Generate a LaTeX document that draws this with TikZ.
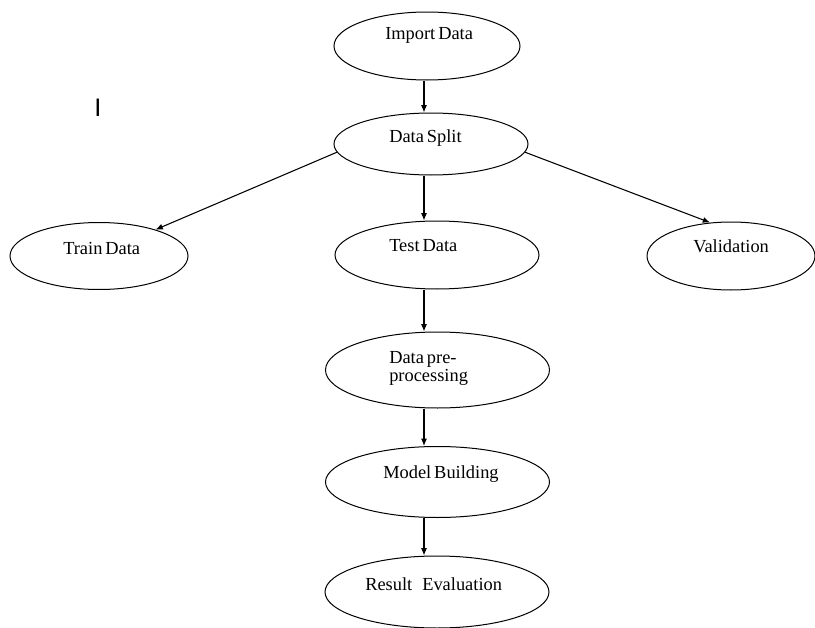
\documentclass[tikz,border=0pt]{standalone}
\usepackage{fontspec}
\setmainfont{Liberation Serif}
\newfontfamily\labsans{Liberation Sans}
\usetikzlibrary{arrows.meta,shapes.geometric}
\newcommand{\tightsp}{\spaceskip=2.2pt plus 1pt\relax}
\begin{document}
\begin{tikzpicture}[x=0.75pt,y=-0.75pt,
  oval/.style={ellipse,draw,line width=0.75pt,inner sep=0pt},
  lbl/.style={anchor=base west,inner sep=0pt,font=\fontsize{13.8pt}{16pt}\selectfont\tightsp},
  arr/.style={line width=0.8pt,-{Latex[length=5.5pt,width=4.5pt]}}]
\useasboundingbox (0,0) rectangle (815,628);
% ellipses
\node[oval,minimum width=186*0.75pt,minimum height=68*0.75pt] (imp) at (427,46) {};
\node[oval,minimum width=194*0.75pt,minimum height=62*0.75pt] (spl) at (431,144) {};
\node[oval,minimum width=178*0.75pt,minimum height=67*0.75pt] (trn) at (99,256) {};
\node[oval,minimum width=204*0.75pt,minimum height=68*0.75pt] (tst) at (437,255) {};
\node[oval,minimum width=168*0.75pt,minimum height=68*0.75pt] (val) at (731,256) {};
\node[oval,minimum width=224*0.75pt,minimum height=76*0.75pt] (pre) at (437.5,370) {};
\node[oval,minimum width=224*0.75pt,minimum height=71*0.75pt] (mdl) at (437.5,482) {};
\node[oval,minimum width=224*0.75pt,minimum height=72*0.75pt] (res) at (437,592) {};
% texts
\node[lbl] (timp) at (385,40) {Import Data};
\node[lbl] (tspl) at (389,142) {Data Split};
\node[lbl] (ttrn) at (63,254) {Train Data};
\node[lbl] (ttst) at (389,251) {Test Data};
\node[lbl] (tval) at (693,252) {Validation};
\node[lbl] (tpre1) at (389,363) {Data pre-};
\node[lbl] (tpre2) at (389,381) {processing};
\node[lbl] (tmdl) at (383,478) {Model Building};
\node[lbl] (tres) at (365,590) {Result\hspace{7.5pt}Evaluation};
\node[anchor=base,inner sep=0pt,font=\labsans\fontsize{19pt}{22pt}\selectfont] (stray) at (98,116) {I};
% connectors
\coordinate (col) at (424,0);
\draw[arr] (imp.south -| col) -- (spl.north -| col);
\draw[arr] (spl.south -| col) -- (tst.north -| col);
\draw[arr] (tst.south -| col) -- (pre.north -| col);
\draw[arr] (pre.south -| col) -- (mdl.north -| col);
\draw[arr] (mdl.south -| col) -- (res.north -| col);
\draw[arr] (spl.185) -- (trn.25);
\draw[arr] (spl.355) -- (val.122);
\end{tikzpicture}
\end{document}
